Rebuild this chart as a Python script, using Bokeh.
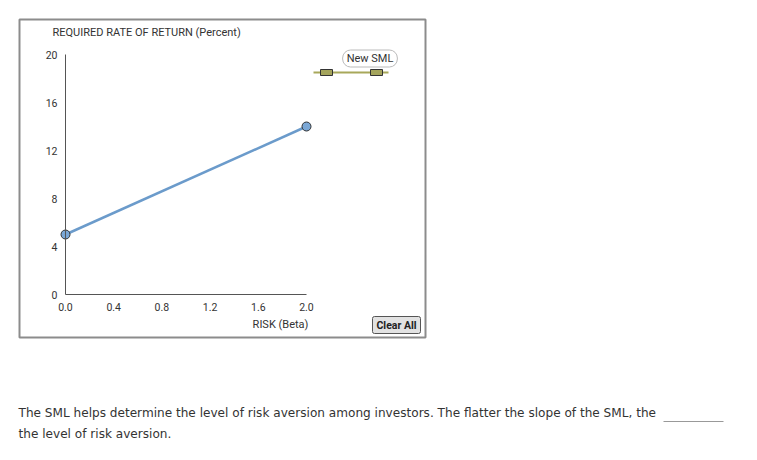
from bokeh.plotting import figure
from bokeh.models import Label, BoxAnnotation, FixedTicker, Range1d, LinearAxis
from bokeh.embed import file_html
from bokeh.resources import INLINE

# ---- data ----
sml_beta = [0.0, 2.0]
sml_return = [5.0, 14.0]
x_ticks = [0.0, 0.4, 0.8, 1.2, 1.6, 2.0]
y_ticks = [0, 4, 8, 12, 16, 20]
x_tick_labels = ["0.0", "0.4", "0.8", "1.2", "1.6", "2.0"]
y_title = "REQUIRED RATE OF RETURN (Percent)"
x_title = "RISK (Beta)"
legend_text = "New SML"
button_text = "Clear All"
para_line1 = "The SML helps determine the level of risk aversion among investors. The flatter the slope of the SML, the"
para_line2 = "the level of risk aversion."

# ---- layout (page pixels) ----
W, H = 757, 460
X0_PX, X_PER = 65.0, 120.5      # beta 0 at page x 65, 120.5 px per unit
Y0_PX, Y_PER = 294.0, 12.0      # return 0 at page y 294, 12 px per unit

def X(px):
    return (px - X0_PX) / X_PER

def Y(py):
    return (Y0_PX - py) / Y_PER

p = figure(width=W, height=H, min_border=0,
           x_range=Range1d(X(0), X(W)), y_range=Range1d(Y(H), Y(0)),
           x_axis_location=None, y_axis_location=None,
           output_backend="svg", toolbar_location=None,
           background_fill_color="white", border_fill_color="white")
p.outline_line_color = None
p.grid.visible = False

FONT = "Roboto"
xaxis = LinearAxis(fixed_location=0, bounds=(0, 2), ticker=FixedTicker(ticks=x_ticks),
                   major_label_overrides={t: l for t, l in zip(x_ticks, x_tick_labels)})
yaxis = LinearAxis(fixed_location=0, bounds=(0, 20), ticker=FixedTicker(ticks=y_ticks))
for ax in (xaxis, yaxis):
    ax.major_tick_line_color = None
    ax.minor_tick_line_color = None
    ax.major_tick_out = 0
    ax.major_tick_in = 0
    ax.axis_line_color = "#555555"
    ax.axis_line_width = 1
    ax.major_label_text_font = FONT
    ax.major_label_text_font_size = "10.5px"
    ax.major_label_text_color = "#333333"
    ax.major_label_standoff = 8
p.add_layout(xaxis, "below")
p.add_layout(yaxis, "left")

# outer box
p.add_layout(BoxAnnotation(left=X(19), right=X(425), top=Y(19), bottom=Y(337),
                           fill_alpha=0, line_color="#8c8c8c", line_alpha=1, line_width=2))

# SML line
p.line(sml_beta, sml_return, line_color="#6b9bcb", line_width=2.5)
p.scatter(sml_beta, sml_return, size=9, fill_color="#7aa7d6", line_color="#333333", line_width=1)

# legend item: New SML
p.add_layout(Label(x=X(369.5), y=Y(58), text=legend_text, text_font=FONT, text_font_size="11px",
                   text_color="#333333", text_align="center", text_baseline="middle",
                   border_line_color="#bbbbbb", border_line_width=1, border_radius=8,
                   background_fill_color="white", padding=dict(left=4, right=4, top=2, bottom=2)))
p.segment(x0=[X(313)], y0=[Y(72)], x1=[X(388)], y1=[Y(72)], line_color="#a8a85a", line_width=2)
p.rect(x=[X(326), X(376)], y=[Y(72), Y(72)], width=12, height=6, width_units="screen",
       height_units="screen", fill_color="#a4a45c", line_color="#333333", line_width=1)

# axis titles
p.add_layout(Label(x=X(52), y=Y(32), text=y_title, text_font=FONT, text_font_size="11px",
                   text_color="#333333", text_align="left", text_baseline="middle"))
p.add_layout(Label(x=X(280), y=Y(324), text=x_title, text_font=FONT, text_font_size="11px",
                   text_color="#333333", text_align="center", text_baseline="middle"))

# Clear All button
p.add_layout(Label(x=X(396), y=Y(324.5), text=button_text, text_font=FONT, text_font_size="10.5px",
                   text_font_style="bold", text_color="#222222", text_align="center", text_baseline="middle",
                   border_line_color="#555555", border_line_width=1, border_radius=2,
                   background_fill_color="#e2e2e2", padding=dict(left=4, right=4, top=2, bottom=2)))

# paragraph
p.add_layout(Label(x=X(18), y=Y(412), text=para_line1, text_font="DejaVu Sans", text_font_size="12.1px",
                   text_color="#333333", text_align="left", text_baseline="middle"))
p.add_layout(Label(x=X(18), y=Y(433), text=para_line2, text_font="DejaVu Sans", text_font_size="12.1px",
                   text_color="#333333", text_align="left", text_baseline="middle"))
p.segment(x0=[X(663)], y0=[Y(421)], x1=[X(723)], y1=[Y(421)], line_color="#999999", line_width=1)

open("out.html", "w").write(file_html(p, INLINE))
